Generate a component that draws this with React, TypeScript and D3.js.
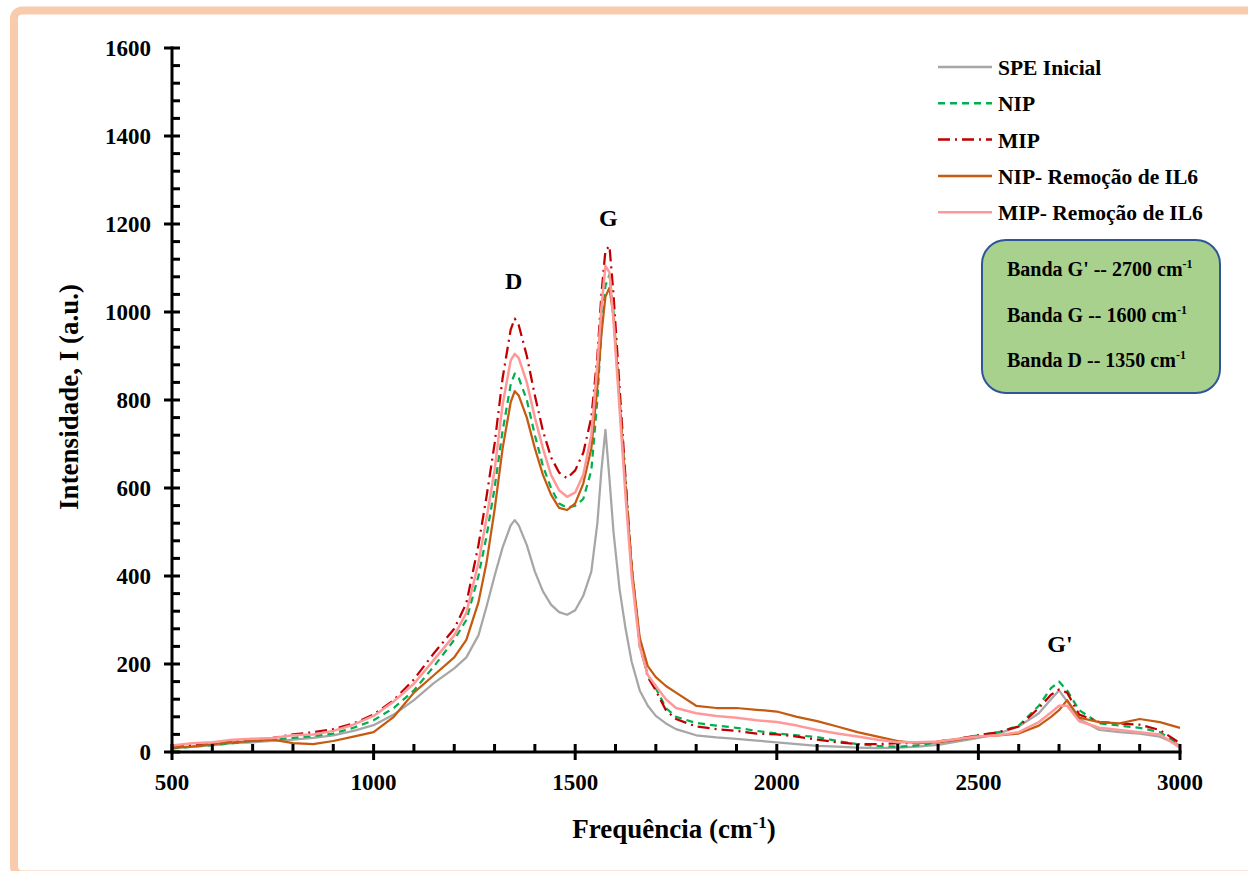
import React, { useEffect, useRef } from "react";
import * as d3 from "d3";

// wavenumber grid (cm-1) shared by every series
const wavenumbers = [500, 550, 600, 650, 700, 750, 800, 850, 900, 950, 1000, 1050, 1100, 1150, 1200, 1230, 1260, 1280, 1300, 1320, 1340, 1350, 1360, 1380, 1400, 1420, 1440, 1460, 1480, 1500, 1520, 1540, 1555, 1565, 1575, 1585, 1595, 1610, 1625, 1640, 1660, 1680, 1700, 1725, 1750, 1800, 1850, 1900, 1950, 2000, 2050, 2100, 2150, 2200, 2250, 2300, 2350, 2400, 2450, 2500, 2550, 2600, 2650, 2680, 2700, 2720, 2750, 2800, 2850, 2900, 2950, 3000];

const speInicial = [8, 12, 15, 20, 22, 25, 28, 32, 38, 48, 61, 85, 118, 157, 190, 215, 265, 330, 400, 465, 515, 527, 515, 470, 410, 365, 335, 318, 312, 322, 355, 410, 520, 640, 732, 620, 500, 370, 280, 205, 140, 105, 82, 65, 52, 38, 33, 30, 26, 22, 18, 14, 12, 10, 9, 10, 12, 16, 24, 32, 42, 58, 88, 120, 140, 115, 75, 50, 45, 42, 35, 15];
const nip = [8, 12, 16, 20, 25, 28, 32, 36, 42, 55, 72, 100, 140, 195, 255, 300, 400, 490, 600, 730, 835, 860, 850, 800, 720, 650, 600, 565, 555, 560, 575, 640, 800, 960, 1060, 1085, 1000, 800, 610, 420, 240, 175, 145, 100, 80, 66, 60, 55, 48, 42, 38, 34, 25, 18, 14, 12, 15, 22, 30, 38, 45, 60, 105, 145, 160, 140, 95, 65, 60, 55, 45, 15];
const mip = [12, 15, 20, 25, 28, 32, 40, 45, 52, 65, 85, 118, 165, 225, 280, 338, 470, 580, 700, 850, 960, 985, 970, 900, 810, 730, 670, 635, 622, 640, 680, 760, 900, 1040, 1140, 1150, 1040, 830, 620, 420, 250, 170, 140, 95, 75, 58, 52, 48, 42, 40, 35, 28, 22, 18, 18, 20, 20, 24, 30, 38, 45, 58, 100, 130, 142, 135, 85, 68, 65, 62, 50, 20];
const nipRemocao = [10, 12, 18, 22, 25, 28, 20, 18, 25, 35, 45, 80, 135, 175, 215, 255, 340, 430, 550, 690, 795, 820, 810, 760, 690, 630, 585, 555, 550, 565, 610, 690, 830, 950, 1035, 1055, 990, 800, 600, 420, 260, 195, 170, 150, 135, 105, 100, 100, 96, 92, 80, 70, 58, 45, 35, 25, 20, 22, 28, 35, 38, 42, 60, 80, 95, 118, 78, 68, 65, 75, 68, 55];
const mipRemocao = [15, 20, 22, 28, 30, 32, 38, 40, 48, 62, 82, 115, 155, 210, 265, 316, 430, 530, 640, 790, 890, 905, 895, 840, 760, 690, 630, 595, 580, 590, 630, 720, 880, 1010, 1105, 1090, 980, 780, 580, 400, 240, 175, 150, 120, 100, 88, 82, 78, 72, 68, 60, 50, 42, 35, 28, 22, 22, 24, 30, 35, 38, 45, 68, 90, 105, 105, 70, 55, 50, 45, 40, 10];

const seriesNames = ["SPE Inicial", "NIP", "MIP", "NIP- Remoção de IL6", "MIP- Remoção de IL6"];
const xTicks = [500, 1000, 1500, 2000, 2500, 3000];
const yTicks = [0, 200, 400, 600, 800, 1000, 1200, 1400, 1600];
const bandLabels = ["Banda G' -- 2700 cm", "Banda G -- 1600 cm", "Banda D -- 1350 cm"];
const peakLabels = [
  { text: "D", x: 1345, y: 1065 },
  { text: "G", x: 1580, y: 1210 },
  { text: "G'", x: 2700, y: 240 },
];

const FONT = "'Liberation Serif', 'Times New Roman', serif";

function App() {
  const ref = useRef<SVGSVGElement>(null);

  useEffect(() => {
    const width = 1248;
    const height = 871;
    const svg = d3.select(ref.current);
    svg.selectAll("*").remove();

    const x = d3.scaleLinear().domain([500, 3000]).range([172, 1180]);
    const y = d3.scaleLinear().domain([0, 1600]).range([752, 48]);

    // outer frame
    svg.append("rect").attr("width", width).attr("height", height).attr("fill", "white");
    svg
      .append("rect")
      .attr("x", 14)
      .attr("y", 10.5)
      .attr("width", 1260)
      .attr("height", 864)
      .attr("rx", 8)
      .attr("fill", "none")
      .attr("stroke", "#F8CBAD")
      .attr("stroke-width", 8);

    // series
    const styles = [
      { data: speInicial, color: "#A6A6A6", dash: null, w: 2.25 },
      { data: nip, color: "#00B050", dash: "7,5", w: 2.25 },
      { data: mip, color: "#C00000", dash: "12,5,2,5", w: 2.25 },
      { data: nipRemocao, color: "#C55A11", dash: null, w: 2.25 },
      { data: mipRemocao, color: "#FF9999", dash: null, w: 2.5 },
    ];
    const line = d3
      .line<number>()
      .x((_, i) => x(wavenumbers[i]))
      .y((d) => y(d));

    const plot = svg.append("g");
    styles.forEach((s) => {
      plot
        .append("path")
        .attr("d", line(s.data))
        .attr("fill", "none")
        .attr("stroke", s.color)
        .attr("stroke-width", s.w)
        .attr("stroke-linejoin", "round")
        .attr("stroke-dasharray", s.dash);
    });

    // axes
    const axes = svg.append("g").attr("stroke", "black");
    axes.append("line").attr("x1", 172).attr("x2", 172).attr("y1", y(1600) - 1.5).attr("y2", 753.5).attr("stroke-width", 3);
    axes.append("line").attr("x1", 170.5).attr("x2", x(3000) + 1.5).attr("y1", 752).attr("y2", 752).attr("stroke-width", 3);

    d3.range(0, 1601, 40).forEach((v) => {
      const major = v % 200 === 0;
      axes
        .append("line")
        .attr("x1", major ? 164 : 172)
        .attr("x2", 180)
        .attr("y1", y(v))
        .attr("y2", y(v))
        .attr("stroke-width", 3);
    });
    d3.range(500, 3001, 100).forEach((v) => {
      const major = v % 500 === 0;
      axes
        .append("line")
        .attr("x1", x(v))
        .attr("x2", x(v))
        .attr("y1", 744)
        .attr("y2", major ? 760 : 752)
        .attr("stroke-width", 3);
    });

    const text = svg.append("g").attr("font-family", FONT).attr("font-weight", "bold").attr("fill", "black");

    text
      .selectAll(".ytick")
      .data(yTicks)
      .join("text")
      .attr("x", 151)
      .attr("y", (d) => y(d) + 8)
      .attr("text-anchor", "end")
      .attr("font-size", 23)
      .text((d) => d);

    text
      .selectAll(".xtick")
      .data(xTicks)
      .join("text")
      .attr("x", (d) => x(d))
      .attr("y", 790)
      .attr("text-anchor", "middle")
      .attr("font-size", 23)
      .text((d) => d);

    // axis titles
    text
      .append("text")
      .attr("transform", "translate(78,397) rotate(-90)")
      .attr("text-anchor", "middle")
      .attr("font-size", 27)
      .text("Intensidade, I (a.u.)");

    const xt = text.append("text").attr("x", 674).attr("y", 838).attr("text-anchor", "middle").attr("font-size", 27);
    xt.append("tspan").text("Frequência (cm");
    xt.append("tspan").attr("font-size", 17).attr("dy", -10).text("-1");
    xt.append("tspan").attr("dy", 10).text(")");

    // peak labels
    text
      .selectAll(".peak")
      .data(peakLabels)
      .join("text")
      .attr("x", (d) => x(d.x) + 1)
      .attr("y", (d) => y(d.y) + 6)
      .attr("text-anchor", "middle")
      .attr("font-size", 24)
      .text((d) => d.text);

    // legend
    const legend = svg.append("g");
    styles.forEach((s, i) => {
      const ly = 67 + i * 36.3;
      legend
        .append("line")
        .attr("x1", 938)
        .attr("x2", 992)
        .attr("y1", ly)
        .attr("y2", ly)
        .attr("stroke", s.color)
        .attr("stroke-width", 2.5)
        .attr("stroke-dasharray", s.dash);
      legend
        .append("text")
        .attr("x", 998)
        .attr("y", ly + 8)
        .attr("font-family", FONT)
        .attr("font-weight", "bold")
        .attr("font-size", 21.5)
        .text(seriesNames[i]);
    });

    // band box
    const box = svg.append("g");
    box
      .append("rect")
      .attr("x", 982)
      .attr("y", 240)
      .attr("width", 238)
      .attr("height", 153)
      .attr("rx", 24)
      .attr("fill", "#A9D18E")
      .attr("stroke", "#2F5597")
      .attr("stroke-width", 2);
    bandLabels.forEach((t, i) => {
      const bt = box
        .append("text")
        .attr("x", 1007)
        .attr("y", 276 + i * 45.5)
        .attr("font-family", FONT)
        .attr("font-weight", "bold")
        .attr("font-size", 20);
      bt.append("tspan").text(t);
      bt.append("tspan").attr("font-size", 12).attr("dy", -8).text("-1");
    });
  }, []);

  return (
    <div style={{ position: "absolute", left: 0, top: 0 }}>
      <svg ref={ref} width={1248} height={871} style={{ display: "block" }} />
    </div>
  );
}

export default App;
